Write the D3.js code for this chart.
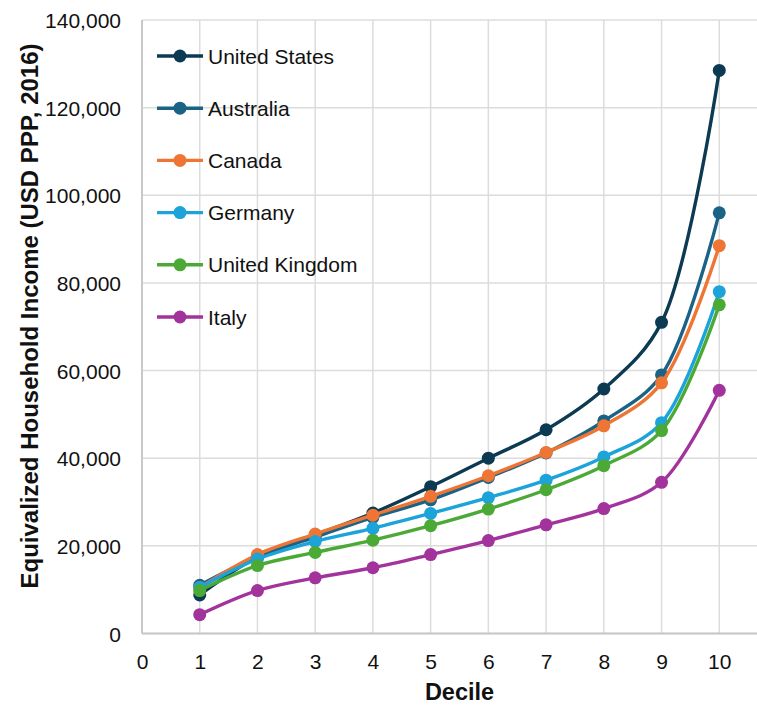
<!DOCTYPE html>
<html>
<head>
<meta charset="utf-8">
<script src="https://cdn.jsdelivr.net/npm/d3@7"></script>
<style>
  html, body { margin: 0; padding: 0; background: #fff; }
  svg { display: block; }
  text { font-family: "Liberation Sans", Arial, sans-serif; fill: #111; }
</style>
</head>
<body>
<svg id="chart" width="757" height="706"></svg>
<script>
// Income deciles (1 = poorest tenth, 10 = richest tenth)
const deciles = [1, 2, 3, 4, 5, 6, 7, 8, 9, 10];

// Equivalized household income per decile, USD PPP (2016)
const unitedStates  = [8800, 17500, 22500, 27500, 33500, 40000, 46500, 55800, 71000, 128500];
const australia     = [11000, 17500, 22000, 26500, 30500, 35600, 41200, 48500, 59000, 96000];
const canada        = [10500, 18000, 22700, 27000, 31300, 36000, 41300, 47400, 57200, 88500];
const germany       = [10500, 17000, 21000, 24000, 27400, 31000, 35000, 40300, 48100, 78000];
const unitedKingdom = [9800, 15500, 18500, 21300, 24600, 28400, 32800, 38300, 46300, 75000];
const italy         = [4300, 9800, 12700, 15000, 18000, 21200, 24800, 28500, 34500, 55500];

const seriesNames  = ["United States", "Australia", "Canada", "Germany", "United Kingdom", "Italy"];
const seriesValues = [unitedStates, australia, canada, germany, unitedKingdom, italy];
const seriesColors = ["#0c3a52", "#1b6386", "#ee7533", "#1ba3da", "#4baa36", "#a3339c"];

const xTicks = [0, 1, 2, 3, 4, 5, 6, 7, 8, 9, 10];
const yTicks = [0, 20000, 40000, 60000, 80000, 100000, 120000, 140000];

const svg = d3.select("#chart");
const plot = { left: 142, right: 777, top: 20, bottom: 633.5 };

const x = d3.scaleLinear().domain([0, 11]).range([plot.left, plot.right]);
const y = d3.scaleLinear().domain([0, 140000]).range([plot.bottom, plot.top]);

// Gridlines
const grid = svg.append("g");
grid.selectAll("line.v").data(xTicks.concat([11])).join("line")
  .attr("x1", d => x(d)).attr("x2", d => x(d))
  .attr("y1", plot.top).attr("y2", plot.bottom)
  .attr("stroke", "#dcdcdc").attr("stroke-width", 1.5);
grid.selectAll("line.h").data(yTicks).join("line")
  .attr("x1", plot.left).attr("x2", plot.right)
  .attr("y1", d => y(d)).attr("y2", d => y(d))
  .attr("stroke", "#dcdcdc").attr("stroke-width", 1.5);

// Axis lines
svg.append("line")
  .attr("x1", plot.left).attr("x2", plot.left)
  .attr("y1", plot.top).attr("y2", plot.bottom)
  .attr("stroke", "#c8c8c8").attr("stroke-width", 2);
svg.append("line")
  .attr("x1", plot.left).attr("x2", plot.right)
  .attr("y1", plot.bottom).attr("y2", plot.bottom)
  .attr("stroke", "#c8c8c8").attr("stroke-width", 2);

// Y axis labels
const yAxis = d3.axisLeft(y).tickValues(yTicks).tickSize(0).tickPadding(0)
  .tickFormat(d3.format(","));
svg.append("g").attr("transform", `translate(121,0)`).call(yAxis)
  .call(g => g.select(".domain").remove())
  .selectAll("text")
  .style("font-family", '"Liberation Sans", Arial, sans-serif')
  .attr("font-size", 21).attr("fill", "#111").attr("dy", "0.36em");

// X axis labels
const xAxis = d3.axisBottom(x).tickValues(xTicks).tickSize(0).tickPadding(0)
  .tickFormat(d3.format("d"));
svg.append("g").attr("transform", `translate(0,654)`).call(xAxis)
  .call(g => g.select(".domain").remove())
  .selectAll("text")
  .style("font-family", '"Liberation Sans", Arial, sans-serif')
  .attr("font-size", 21).attr("fill", "#111").attr("dy", "0.71em");

// Axis titles
svg.append("text")
  .attr("x", (plot.left + plot.right) / 2).attr("y", 700)
  .attr("text-anchor", "middle")
  .attr("font-size", 23.5).attr("font-weight", "bold")
  .text("Decile");
svg.append("text")
  .attr("transform", "translate(38,316) rotate(-90)")
  .attr("text-anchor", "middle")
  .attr("font-size", 24).attr("font-weight", "bold")
  .text("Equivalized Household Income (USD PPP, 2016)");

// Series lines and markers
const line = d3.line()
  .x((d, i) => x(deciles[i]))
  .y(d => y(d))
  .curve(d3.curveCatmullRom.alpha(0.5));

seriesValues.forEach((vals, k) => {
  const g = svg.append("g");
  g.append("path").attr("d", line(vals))
    .attr("fill", "none").attr("stroke", seriesColors[k])
    .attr("stroke-width", 3.4).attr("stroke-linejoin", "round");
  g.selectAll("circle").data(vals).join("circle")
    .attr("cx", (d, i) => x(deciles[i])).attr("cy", d => y(d))
    .attr("r", 6.5).attr("fill", seriesColors[k]);
});

// Legend
const legend = svg.append("g").attr("transform", "translate(157,56)");
seriesNames.forEach((name, k) => {
  const row = legend.append("g").attr("transform", `translate(0,${k * 52.2})`);
  row.append("line").attr("x1", 0).attr("x2", 46).attr("y1", 0).attr("y2", 0)
    .attr("stroke", seriesColors[k]).attr("stroke-width", 3.4);
  row.append("circle").attr("cx", 23).attr("cy", 0).attr("r", 6.5)
    .attr("fill", seriesColors[k]);
  row.append("text").attr("x", 51).attr("y", 0).attr("dy", "0.36em")
    .attr("font-size", 21).text(name);
});
</script>
</body>
</html>
